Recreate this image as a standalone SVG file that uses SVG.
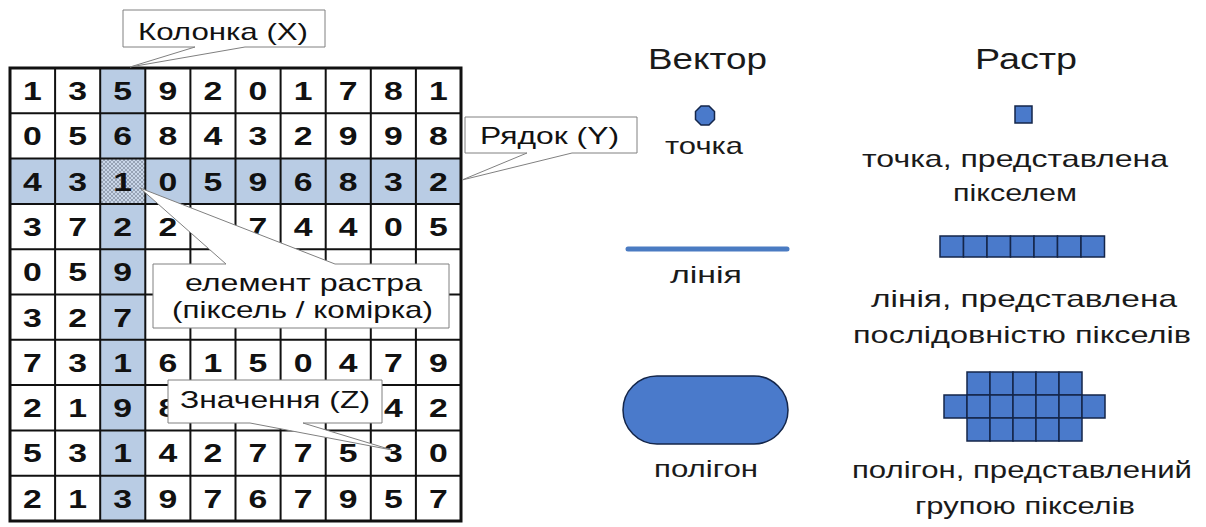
<svg xmlns="http://www.w3.org/2000/svg" width="1206" height="527" viewBox="0 0 1206 527">
<defs>
<pattern id="hatch" width="4" height="4" patternUnits="userSpaceOnUse">
<rect width="4" height="4" fill="#c9d6e8"/>
<path d="M0,0 L4,4 M4,0 L0,4" stroke="#8a96a8" stroke-width="0.8"/>
</pattern>
</defs>
<style>
.d{font-family:"Liberation Sans",Arial,sans-serif;font-weight:bold;font-size:25px;fill:#111;text-anchor:middle}
.gl{stroke:#111;stroke-width:2;fill:none}
.co{fill:#fff;stroke:#808080;stroke-width:1}
.ct{font-family:"Liberation Sans",Arial,sans-serif;font-size:24px;fill:#111}
.rt{font-family:"Liberation Sans",Arial,sans-serif;font-size:24px;fill:#1a1a1a;text-anchor:middle}
.hd{font-family:"Liberation Sans",Arial,sans-serif;font-size:30px;fill:#1a1a1a;text-anchor:middle}
.px{fill:#4a7acb;stroke:#14264a;stroke-width:1.5}
</style>
<rect width="1206" height="527" fill="#fff"/>
<g id="grid">
<rect x="100.2" y="68" width="45.1" height="453" fill="#b9cce4"/>
<rect x="10" y="158.6" width="451" height="45.3" fill="#b9cce4"/>
<rect x="100.2" y="158.6" width="45.1" height="45.3" fill="url(#hatch)"/>
<path class="gl" d="M55.1,68V521M100.2,68V521M145.3,68V521M190.4,68V521M235.5,68V521M280.6,68V521M325.7,68V521M370.8,68V521M415.9,68V521M10,113.3H461M10,158.6H461M10,203.9H461M10,249.2H461M10,294.5H461M10,339.8H461M10,385.1H461M10,430.4H461M10,475.7H461"/>
<rect x="10" y="68" width="451" height="453" fill="none" stroke="#111" stroke-width="3"/>
<g>
<text class="d" transform="translate(32.5,100) scale(1.35,1)">1</text><text class="d" transform="translate(77.6,100) scale(1.35,1)">3</text><text class="d" transform="translate(122.7,100) scale(1.35,1)">5</text><text class="d" transform="translate(167.8,100) scale(1.35,1)">9</text><text class="d" transform="translate(212.9,100) scale(1.35,1)">2</text><text class="d" transform="translate(258,100) scale(1.35,1)">0</text><text class="d" transform="translate(303.1,100) scale(1.35,1)">1</text><text class="d" transform="translate(348.2,100) scale(1.35,1)">7</text><text class="d" transform="translate(393.3,100) scale(1.35,1)">8</text><text class="d" transform="translate(438.4,100) scale(1.35,1)">1</text>
<text class="d" transform="translate(32.5,145.3) scale(1.35,1)">0</text><text class="d" transform="translate(77.6,145.3) scale(1.35,1)">5</text><text class="d" transform="translate(122.7,145.3) scale(1.35,1)">6</text><text class="d" transform="translate(167.8,145.3) scale(1.35,1)">8</text><text class="d" transform="translate(212.9,145.3) scale(1.35,1)">4</text><text class="d" transform="translate(258,145.3) scale(1.35,1)">3</text><text class="d" transform="translate(303.1,145.3) scale(1.35,1)">2</text><text class="d" transform="translate(348.2,145.3) scale(1.35,1)">9</text><text class="d" transform="translate(393.3,145.3) scale(1.35,1)">9</text><text class="d" transform="translate(438.4,145.3) scale(1.35,1)">8</text>
<text class="d" transform="translate(32.5,190.6) scale(1.35,1)">4</text><text class="d" transform="translate(77.6,190.6) scale(1.35,1)">3</text><text class="d" transform="translate(122.7,190.6) scale(1.35,1)">1</text><text class="d" transform="translate(167.8,190.6) scale(1.35,1)">0</text><text class="d" transform="translate(212.9,190.6) scale(1.35,1)">5</text><text class="d" transform="translate(258,190.6) scale(1.35,1)">9</text><text class="d" transform="translate(303.1,190.6) scale(1.35,1)">6</text><text class="d" transform="translate(348.2,190.6) scale(1.35,1)">8</text><text class="d" transform="translate(393.3,190.6) scale(1.35,1)">3</text><text class="d" transform="translate(438.4,190.6) scale(1.35,1)">2</text>
<text class="d" transform="translate(32.5,235.9) scale(1.35,1)">3</text><text class="d" transform="translate(77.6,235.9) scale(1.35,1)">7</text><text class="d" transform="translate(122.7,235.9) scale(1.35,1)">2</text><text class="d" transform="translate(167.8,235.9) scale(1.35,1)">2</text><text class="d" transform="translate(212.9,235.9) scale(1.35,1)">8</text><text class="d" transform="translate(258,235.9) scale(1.35,1)">7</text><text class="d" transform="translate(303.1,235.9) scale(1.35,1)">4</text><text class="d" transform="translate(348.2,235.9) scale(1.35,1)">4</text><text class="d" transform="translate(393.3,235.9) scale(1.35,1)">0</text><text class="d" transform="translate(438.4,235.9) scale(1.35,1)">5</text>
<text class="d" transform="translate(32.5,281.2) scale(1.35,1)">0</text><text class="d" transform="translate(77.6,281.2) scale(1.35,1)">5</text><text class="d" transform="translate(122.7,281.2) scale(1.35,1)">9</text>
<text class="d" transform="translate(32.5,326.5) scale(1.35,1)">3</text><text class="d" transform="translate(77.6,326.5) scale(1.35,1)">2</text><text class="d" transform="translate(122.7,326.5) scale(1.35,1)">7</text>
<text class="d" transform="translate(32.5,371.8) scale(1.35,1)">7</text><text class="d" transform="translate(77.6,371.8) scale(1.35,1)">3</text><text class="d" transform="translate(122.7,371.8) scale(1.35,1)">1</text><text class="d" transform="translate(167.8,371.8) scale(1.35,1)">6</text><text class="d" transform="translate(212.9,371.8) scale(1.35,1)">1</text><text class="d" transform="translate(258,371.8) scale(1.35,1)">5</text><text class="d" transform="translate(303.1,371.8) scale(1.35,1)">0</text><text class="d" transform="translate(348.2,371.8) scale(1.35,1)">4</text><text class="d" transform="translate(393.3,371.8) scale(1.35,1)">7</text><text class="d" transform="translate(438.4,371.8) scale(1.35,1)">9</text>
<text class="d" transform="translate(32.5,417.1) scale(1.35,1)">2</text><text class="d" transform="translate(77.6,417.1) scale(1.35,1)">1</text><text class="d" transform="translate(122.7,417.1) scale(1.35,1)">9</text><text class="d" transform="translate(167.8,417.1) scale(1.35,1)">8</text><text class="d" transform="translate(393.3,417.1) scale(1.35,1)">4</text><text class="d" transform="translate(438.4,417.1) scale(1.35,1)">2</text>
<text class="d" transform="translate(32.5,462.4) scale(1.35,1)">5</text><text class="d" transform="translate(77.6,462.4) scale(1.35,1)">3</text><text class="d" transform="translate(122.7,462.4) scale(1.35,1)">1</text><text class="d" transform="translate(167.8,462.4) scale(1.35,1)">4</text><text class="d" transform="translate(212.9,462.4) scale(1.35,1)">2</text><text class="d" transform="translate(258,462.4) scale(1.35,1)">7</text><text class="d" transform="translate(303.1,462.4) scale(1.35,1)">7</text><text class="d" transform="translate(348.2,462.4) scale(1.35,1)">5</text><text class="d" transform="translate(393.3,462.4) scale(1.35,1)">3</text><text class="d" transform="translate(438.4,462.4) scale(1.35,1)">0</text>
<text class="d" transform="translate(32.5,507.7) scale(1.35,1)">2</text><text class="d" transform="translate(77.6,507.7) scale(1.35,1)">1</text><text class="d" transform="translate(122.7,507.7) scale(1.35,1)">3</text><text class="d" transform="translate(167.8,507.7) scale(1.35,1)">9</text><text class="d" transform="translate(212.9,507.7) scale(1.35,1)">7</text><text class="d" transform="translate(258,507.7) scale(1.35,1)">6</text><text class="d" transform="translate(303.1,507.7) scale(1.35,1)">7</text><text class="d" transform="translate(348.2,507.7) scale(1.35,1)">9</text><text class="d" transform="translate(393.3,507.7) scale(1.35,1)">5</text><text class="d" transform="translate(438.4,507.7) scale(1.35,1)">7</text>
</g>
</g>
<g id="callout-column">
<path class="co" d="M123,10 H325 V47 H245 L130,67 L195,47 H123 Z"/>
<text class="ct" x="138" y="40" textLength="170" lengthAdjust="spacingAndGlyphs">Колонка (X)</text>
</g>
<g id="callout-row">
<path class="co" d="M465,117 H637 V153 H572 L462,180 L527,153 H465 Z"/>
<text class="ct" x="480" y="144" textLength="139" lengthAdjust="spacingAndGlyphs">Рядок (Y)</text>
</g>
<g id="callout-cell">
<path class="co" d="M153,264 H226 L140,188 L335,264 H449 V328 H153 Z"/>
<text class="ct" x="185" y="291" textLength="237" lengthAdjust="spacingAndGlyphs">елемент растра</text>
<text class="ct" x="172" y="318" textLength="261" lengthAdjust="spacingAndGlyphs">(піксель / комірка)</text>
</g>
<g id="callout-value">
<path class="co" d="M168,380 H382 V423 H303 L392,450 L250,423 H168 Z"/>
<text class="ct" x="180" y="408" textLength="190" lengthAdjust="spacingAndGlyphs">Значення (Z)</text>
</g>
<g id="vector-header"><text class="hd" x="707.5" y="69" textLength="119" lengthAdjust="spacingAndGlyphs">Вектор</text></g>
<g id="raster-header"><text class="hd" x="1026" y="69" textLength="102" lengthAdjust="spacingAndGlyphs">Растр</text></g>
<g id="vector-point">
<polygon class="px" points="701,106 709,106 714.5,111.5 714.5,119.5 709,125 701,125 695.5,119.5 695.5,111.5"/>
<text class="rt" x="704" y="154" textLength="78" lengthAdjust="spacingAndGlyphs">точка</text>
</g>
<g id="raster-point">
<rect class="px" x="1015" y="106" width="17" height="17"/>
<text class="rt" x="1015" y="167" textLength="306" lengthAdjust="spacingAndGlyphs">точка, представлена</text>
<text class="rt" x="1015" y="201" textLength="124" lengthAdjust="spacingAndGlyphs">пікселем</text>
</g>
<g id="vector-line">
<line x1="628" y1="249" x2="787" y2="249" stroke="#4a7bc2" stroke-width="5" stroke-linecap="round"/>
<text class="rt" x="706" y="283" textLength="72" lengthAdjust="spacingAndGlyphs">лінія</text>
</g>
<g id="raster-line">
<rect class="px" x="940" y="236" width="23.5" height="21"/><rect class="px" x="963.5" y="236" width="23.5" height="21"/><rect class="px" x="987" y="236" width="23.5" height="21"/><rect class="px" x="1010.5" y="236" width="23.5" height="21"/><rect class="px" x="1034" y="236" width="23.5" height="21"/><rect class="px" x="1057.5" y="236" width="23.5" height="21"/><rect class="px" x="1081" y="236" width="23.5" height="21"/>
<text class="rt" x="1024" y="307" textLength="306" lengthAdjust="spacingAndGlyphs">лінія, представлена</text>
<text class="rt" x="1022" y="343" textLength="338" lengthAdjust="spacingAndGlyphs">послідовністю пікселів</text>
</g>
<g id="vector-polygon">
<rect class="px" x="623" y="376" width="165" height="68" rx="34" ry="34"/>
<text class="rt" x="706" y="477" textLength="104" lengthAdjust="spacingAndGlyphs">полігон</text>
</g>
<g id="raster-polygon">
<rect class="px" x="967" y="372" width="23" height="23"/><rect class="px" x="990" y="372" width="23" height="23"/><rect class="px" x="1013" y="372" width="23" height="23"/><rect class="px" x="1036" y="372" width="23" height="23"/><rect class="px" x="1059" y="372" width="23" height="23"/>
<rect class="px" x="944" y="395" width="23" height="23"/><rect class="px" x="967" y="395" width="23" height="23"/><rect class="px" x="990" y="395" width="23" height="23"/><rect class="px" x="1013" y="395" width="23" height="23"/><rect class="px" x="1036" y="395" width="23" height="23"/><rect class="px" x="1059" y="395" width="23" height="23"/><rect class="px" x="1082" y="395" width="23" height="23"/>
<rect class="px" x="967" y="418" width="23" height="23"/><rect class="px" x="990" y="418" width="23" height="23"/><rect class="px" x="1013" y="418" width="23" height="23"/><rect class="px" x="1036" y="418" width="23" height="23"/><rect class="px" x="1059" y="418" width="23" height="23"/>
<text class="rt" x="1022" y="478" textLength="340" lengthAdjust="spacingAndGlyphs">полігон, представлений</text>
<text class="rt" x="1025" y="514" textLength="220" lengthAdjust="spacingAndGlyphs">групою пікселів</text>
</g>
</svg>
